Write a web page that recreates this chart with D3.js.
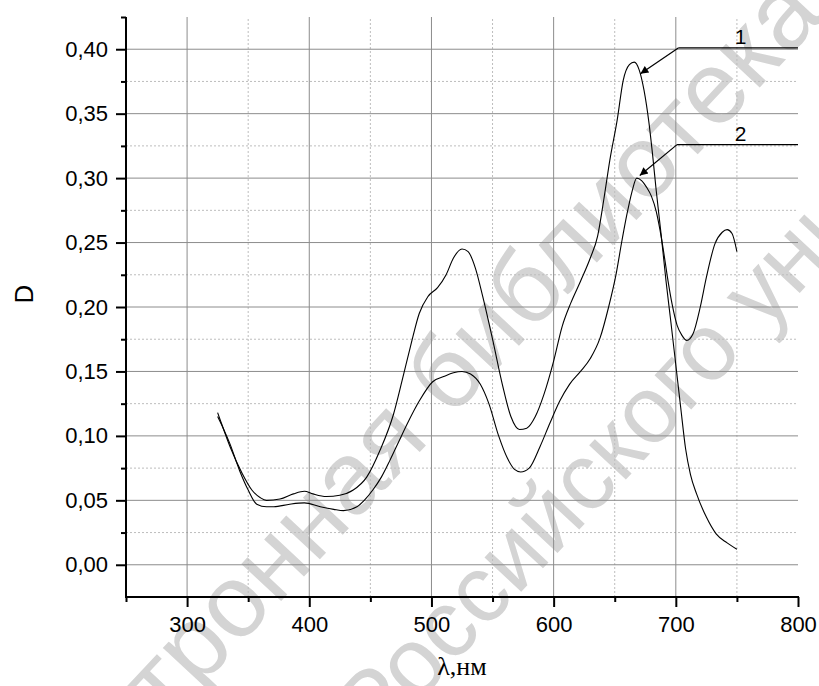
<!DOCTYPE html>
<html>
<head>
<meta charset="utf-8">
<script src="https://cdn.jsdelivr.net/npm/d3@7"></script>
<style>
  body { margin: 0; background: #fff; }
  svg { display: block; }
  .tick text { font-family: "Liberation Sans", Arial, sans-serif; font-size: 22px; fill: #000; }
  .wm { font-family: "Liberation Sans", Arial, sans-serif; fill: #d4d4d4; }
</style>
</head>
<body>
<div id="chart"></div>
<script>

// curve 1 (peak ~0.39 near 666 nm)
var wave1 = [325, 328, 335, 345, 353, 360, 365, 376, 387, 396, 403, 414, 425, 436, 447, 458, 469, 476,
             483, 490, 497, 505, 512, 518, 525, 530, 536, 542, 550, 558, 565, 572, 578, 585, 592, 600,
             607, 614, 622, 630, 636, 641, 646, 652, 657, 662, 666, 670, 674, 678, 681, 684, 688, 692,
             696, 700, 704, 708, 712, 717, 725, 733, 742, 750];
var dens1 = [0.118, 0.110, 0.092, 0.071, 0.058, 0.052, 0.050, 0.051, 0.055, 0.057, 0.055, 0.053, 0.054, 0.058, 0.068, 0.089, 0.117, 0.143,
             0.170, 0.195, 0.208, 0.215, 0.225, 0.238, 0.245, 0.243, 0.230, 0.208, 0.175, 0.140, 0.115, 0.105, 0.106, 0.115, 0.132, 0.158,
             0.185, 0.203, 0.220, 0.238, 0.255, 0.283, 0.314, 0.345, 0.376, 0.388, 0.390, 0.384, 0.368, 0.343, 0.318, 0.290, 0.256, 0.220,
             0.188, 0.155, 0.122, 0.090, 0.070, 0.055, 0.037, 0.024, 0.017, 0.012];

// curve 2 (peak ~0.30 near 668 nm, second band at 742 nm)
var wave2 = [325, 330, 335, 343, 350, 357, 365, 371, 384, 396, 409, 420, 428, 439, 445, 452, 459, 466,
             473, 480, 490, 501, 510, 518, 525, 532, 540, 547, 555, 562, 568, 573, 580, 589, 597, 605,
             613, 622, 630, 638, 645, 651, 656, 660, 664, 668, 672, 676, 680, 684, 687, 690, 693, 697,
             701, 705, 709, 714, 720, 725, 732, 738, 742, 746, 750];
var dens2 = [0.115, 0.105, 0.094, 0.073, 0.058, 0.047, 0.045, 0.045, 0.047, 0.048, 0.045, 0.043, 0.042, 0.045, 0.050, 0.058, 0.068, 0.081,
             0.095, 0.109, 0.127, 0.142, 0.146, 0.149, 0.150, 0.148, 0.140, 0.125, 0.100, 0.083, 0.074, 0.072, 0.075, 0.092, 0.110, 0.127,
             0.140, 0.150, 0.160, 0.176, 0.200, 0.225, 0.252, 0.272, 0.289, 0.300, 0.298, 0.293, 0.286, 0.274, 0.260, 0.243, 0.224, 0.202,
             0.186, 0.178, 0.174, 0.179, 0.200, 0.223, 0.249, 0.258, 0.260, 0.257, 0.243];

var xMajor = [300, 400, 500, 600, 700, 800];
var xMinor = [250, 350, 450, 550, 650, 750];
var yMajor = [0, 0.05, 0.10, 0.15, 0.20, 0.25, 0.30, 0.35, 0.40];
var yMinor = [0.025, 0.075, 0.125, 0.175, 0.225, 0.275, 0.325, 0.375, 0.425];

// curve numbers, arrow tip and elbow of the leader line (nm, D)
var curveNames = ["1", "2"];
var leaderTip = [[671, 0.381], [670.5, 0.302]];
var leaderElbow = [[702, 0.401], [701, 0.326]];

// watermark lines: text, index of the letter to pin, where it sits
var wmText = ["Электронная библиотека", "Российского университета"];
var wmPin = [5, 2];
var wmAt = [[198, 690], [452, 666]];
var wmSize = [103, 95];

function init() {

  var w = 819;
  var h = 686;

  var xScale = d3.scaleLinear().domain([250, 800]).range([126, 798]);
  var yScale = d3.scaleLinear().domain([-0.025, 0.425]).range([597, 17]);

  var comma = d3.formatLocale({ decimal: ",", thousands: " ", grouping: [3], currency: ["", ""] }).format(".2f");

  var svg = d3.select("#chart")
              .append("svg")
              .attr("width", w)
              .attr("height", h);

  svg.append("defs").append("marker")
      .attr("id", "arrow")
      .attr("viewBox", "0 0 10 10")
      .attr("refX", 10)
      .attr("refY", 5)
      .attr("markerWidth", 13)
      .attr("markerHeight", 8)
      .attr("markerUnits", "userSpaceOnUse")
      .attr("orient", "auto")
      .append("path")
      .attr("d", "M0,0 L10,5 L0,10 z")
      .attr("fill", "#000");

  // watermark
  var ang = -47;
  var rad = ang * Math.PI / 180;
  wmText.forEach(function(t, i) {
    var probe = svg.append("text").attr("class", "wm")
        .style("font-size", wmSize[i] + "px").text(t.slice(0, wmPin[i]));
    var off = probe.node().getComputedTextLength();
    probe.remove();
    var sx = wmAt[i][0] - off * Math.cos(rad);
    var sy = wmAt[i][1] - off * Math.sin(rad);
    svg.append("text")
        .attr("class", "wm")
        .style("font-size", wmSize[i] + "px")
        .attr("transform", "translate(" + sx + "," + sy + ") rotate(" + ang + ")")
        .text(t);
  });

  // grid
  svg.append("g").selectAll("line")
      .data(xMinor.filter(function(d) { return d > 250; }))
      .enter().append("line")
      .attr("x1", function(d) { return xScale(d); })
      .attr("x2", function(d) { return xScale(d); })
      .attr("y1", yScale(-0.025))
      .attr("y2", yScale(0.425))
      .attr("stroke", "#bdbdbd")
      .attr("stroke-dasharray", "2,2");

  svg.append("g").selectAll("line")
      .data(yMinor.filter(function(d) { return d < 0.4; }))
      .enter().append("line")
      .attr("x1", xScale(250))
      .attr("x2", xScale(800))
      .attr("y1", function(d) { return yScale(d); })
      .attr("y2", function(d) { return yScale(d); })
      .attr("stroke", "#bdbdbd")
      .attr("stroke-dasharray", "2,2");

  svg.append("g").selectAll("line")
      .data(xMajor.filter(function(d) { return d < 800; }))
      .enter().append("line")
      .attr("x1", function(d) { return xScale(d); })
      .attr("x2", function(d) { return xScale(d); })
      .attr("y1", yScale(-0.025))
      .attr("y2", yScale(0.425))
      .attr("stroke", "#8c8c8c");

  svg.append("g").selectAll("line")
      .data(yMajor)
      .enter().append("line")
      .attr("x1", xScale(250))
      .attr("x2", xScale(800))
      .attr("y1", function(d) { return yScale(d); })
      .attr("y2", function(d) { return yScale(d); })
      .attr("stroke", "#8c8c8c");

  // curves
  var line = d3.line()
      .x(function(d) { return xScale(d[0]); })
      .y(function(d) { return yScale(d[1]); })
      .curve(d3.curveMonotoneX);

  [[wave1, dens1], [wave2, dens2]].forEach(function(s) {
    svg.append("path")
        .datum(d3.zip(s[0], s[1]))
        .attr("d", line)
        .attr("fill", "none")
        .attr("stroke", "#000")
        .attr("stroke-width", 1.1);
  });

  // leaders and numbers
  curveNames.forEach(function(name, i) {
    svg.append("line")
        .attr("x1", xScale(leaderElbow[i][0])).attr("y1", yScale(leaderElbow[i][1]))
        .attr("x2", xScale(800)).attr("y2", yScale(leaderElbow[i][1]))
        .attr("stroke", "#000")
        .attr("stroke-width", 1.2);
    svg.append("line")
        .attr("x1", xScale(leaderElbow[i][0])).attr("y1", yScale(leaderElbow[i][1]))
        .attr("x2", xScale(leaderTip[i][0])).attr("y2", yScale(leaderTip[i][1]))
        .attr("stroke", "#000")
        .attr("stroke-width", 1.2)
        .attr("marker-end", "url(#arrow)");
    svg.append("text")
        .attr("x", xScale(753))
        .attr("y", yScale(leaderElbow[i][1]) - 4)
        .attr("text-anchor", "middle")
        .style("font-family", "Liberation Sans, Arial, sans-serif")
        .style("font-size", "21px")
        .text(name);
  });

  // axes: majors with labels, minors in their own groups
  var xAxis = d3.axisBottom(xScale).tickValues(xMajor).tickSize(10).tickPadding(9)
      .tickFormat(d3.format("d"));
  var xAxisMinor = d3.axisBottom(xScale).tickValues(xMinor).tickSize(5).tickFormat("");

  var xPos = "translate(0," + yScale(-0.025) + ")";
  svg.append("g").attr("transform", xPos).call(xAxisMinor);
  svg.append("g").attr("transform", xPos).call(xAxis);

  var yAxis = d3.axisLeft(yScale).tickValues(yMajor).tickSize(10).tickPadding(8)
      .tickFormat(comma);
  var yAxisMinor = d3.axisLeft(yScale).tickValues(yMinor).tickSize(5).tickFormat("");

  var yPos = "translate(" + xScale(250) + ",0)";
  svg.append("g").attr("transform", yPos).call(yAxisMinor);
  svg.append("g").attr("transform", yPos).call(yAxis);

  svg.selectAll(".domain").attr("stroke", "none");
  svg.selectAll(".tick line").attr("stroke", "#000").attr("stroke-width", 2);

  svg.append("line")
      .attr("x1", xScale(250) - 1).attr("x2", xScale(800) + 1)
      .attr("y1", yScale(-0.025)).attr("y2", yScale(-0.025))
      .attr("stroke", "#000").attr("stroke-width", 2);
  svg.append("line")
      .attr("x1", xScale(250)).attr("x2", xScale(250))
      .attr("y1", yScale(-0.025)).attr("y2", yScale(0.425))
      .attr("stroke", "#000").attr("stroke-width", 2);

  // titles
  svg.append("text")
      .attr("transform", "translate(33," + yScale(0.21) + ") rotate(-90)")
      .attr("text-anchor", "middle")
      .style("font-family", "Liberation Sans, Arial, sans-serif")
      .style("font-size", "26px")
      .text("D");

  svg.append("text")
      .attr("x", (xScale(250) + xScale(800)) / 2)
      .attr("y", 675)
      .attr("text-anchor", "middle")
      .style("font-family", "Liberation Serif, Times New Roman, serif")
      .style("font-size", "26px")
      .text("λ,нм");
}

window.onload = init;
</script>
</body>
</html>
